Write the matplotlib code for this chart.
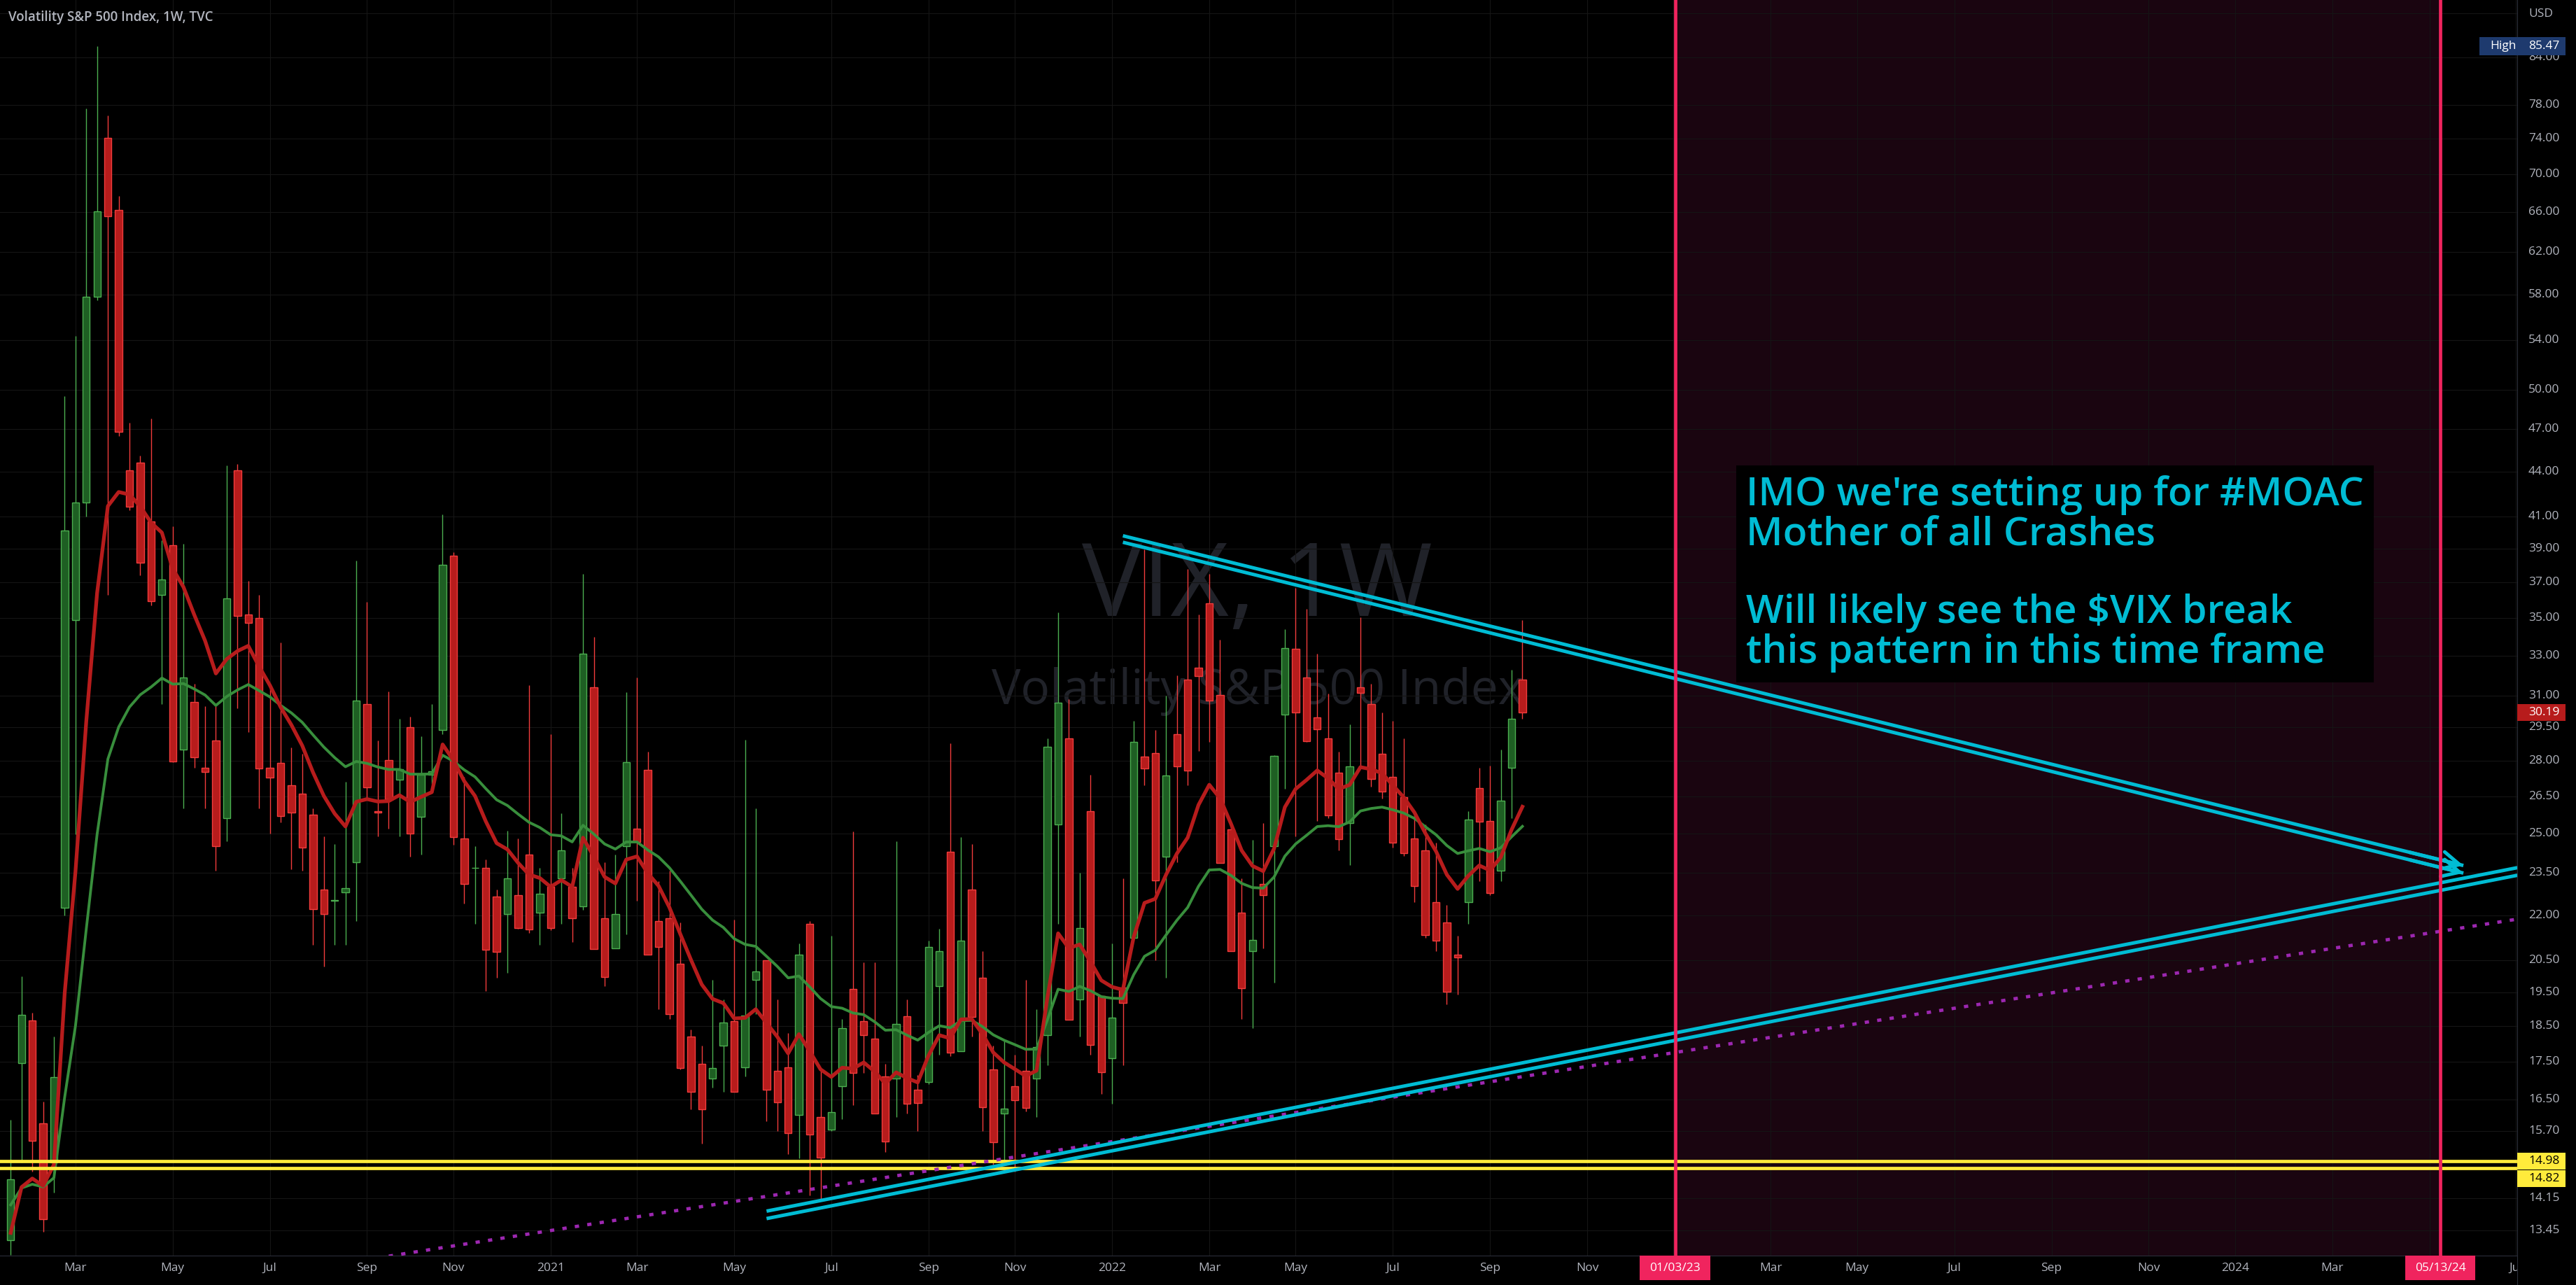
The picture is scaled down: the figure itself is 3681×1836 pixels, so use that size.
import numpy as np
import pandas as pd
import matplotlib
matplotlib.use("Agg")
import matplotlib.pyplot as plt
import matplotlib.dates as mdates
import matplotlib.transforms as mtransforms
from matplotlib.patches import Rectangle

plt.rcParams['font.family'] = ['Open Sans', 'DejaVu Sans']

# ---- VIX weekly candles (TVC), first bar = week of 2020-01-20 ----------
first_week = "2020-01-20"
opens = [13.24, 17.46, 18.66, 15.9, 14.96, 22.26, 34.9, 41.9, 57.8, 74.1,
         66.2, 44.1, 44.6, 40.7, 36.3, 39.2, 28.5, 30.7, 27.7, 28.9,
         25.6, 44.1, 35.2, 35.0, 27.7, 27.9, 26.95, 26.6, 25.75, 22.9,
         22.5, 22.8, 23.9, 30.6, 25.9, 28.05, 27.2, 29.5, 25.67, 27.4,
         29.4, 38.6, 24.8, 23.68, 23.7, 22.65, 22.05, 22.7, 24.2, 22.1,
         23.0, 23.3, 23.0, 22.3, 31.4, 21.9, 20.9, 24.5, 25.2, 27.6,
         21.8, 21.9, 20.4, 18.2, 17.45, 17.05, 17.95, 18.65, 17.35, 19.9,
         20.5, 17.25, 17.35, 16.1, 21.7, 16.05, 15.75, 16.85, 19.6, 18.65,
         18.15, 17.1, 17.05, 18.8, 16.75, 16.95, 19.7, 24.3, 17.8, 22.9,
         19.95, 17.3, 16.15, 16.85, 17.25, 17.05, 18.25, 25.35, 29.0, 19.3,
         25.9, 19.4, 17.6, 19.65, 21.25, 28.2, 28.35, 24.1, 29.2, 31.8,
         32.4, 35.8, 31.05, 25.15, 22.1, 20.8, 23.1, 24.5, 30.1, 33.35,
         31.9, 29.98, 29.0, 27.5, 25.4, 31.4, 30.6, 28.3, 27.3, 26.45,
         24.8, 24.35, 22.45, 21.75, 20.7, 22.45, 26.85, 25.5, 23.6, 27.7,
         31.8]
highs = [15.98, 20.0, 18.9, 16.45, 18.2, 49.48, 54.39, 77.6, 85.47, 76.7,
         67.7, 47.5, 45.1, 47.8, 39.5, 40.4, 39.3, 31.6, 30.5, 30.5,
         44.44, 44.5, 37.1, 36.3, 31.4, 33.7, 28.6, 28.3, 26.0, 24.9,
         24.6, 27.1, 38.3, 35.9, 28.9, 31.2, 29.9, 30.0, 29.1, 30.6,
         41.16, 38.8, 27.3, 24.5, 24.0, 22.9, 25.1, 24.8, 31.5, 23.7,
         29.2, 25.8, 23.7, 37.51, 34.0, 23.9, 24.2, 31.16, 31.9, 28.4,
         23.2, 23.6, 21.75, 18.4, 17.95, 19.9, 19.3, 21.85, 28.93, 26.0,
         20.5, 19.3, 18.3, 21.05, 21.8, 17.3, 21.3, 18.7, 25.09, 20.45,
         20.45, 17.45, 24.7, 19.3, 17.15, 21.15, 21.55, 28.79, 24.85, 24.6,
         20.8, 17.95, 18.1, 17.7, 19.9, 19.0, 29.0, 35.32, 30.85, 23.5,
         27.4, 19.4, 21.05, 23.3, 29.8, 38.94, 29.4, 31.0, 32.0, 37.79,
         35.2, 37.5, 33.85, 25.3, 23.3, 24.75, 25.4, 28.25, 34.4, 36.7,
         35.5, 33.1, 31.1, 28.4, 29.65, 35.05, 31.6, 30.2, 29.8, 29.0,
         25.9, 25.35, 24.65, 22.35, 21.3, 25.9, 27.7, 27.8, 28.5, 32.3,
         34.9]
lows = [12.95, 14.96, 14.74, 13.42, 14.26, 22.0, 24.97, 41.0, 57.5, 36.3,
        46.5, 41.4, 37.4, 35.7, 30.6, 27.95, 26.0, 27.7, 26.0, 23.6,
        24.7, 30.4, 29.3, 26.0, 25.0, 25.45, 23.65, 23.6, 21.0, 20.3,
        21.0, 21.0, 21.8, 26.4, 24.9, 25.2, 24.9, 24.1, 24.2, 27.0,
        29.2, 24.55, 22.4, 21.7, 19.55, 19.95, 20.1, 21.55, 21.4, 21.0,
        21.5, 21.7, 21.1, 22.2, 20.87, 19.7, 20.9, 21.35, 22.5, 20.69,
        19.0, 18.7, 17.3, 16.25, 15.4, 16.8, 16.7, 16.69, 17.1, 18.85,
        15.95, 15.7, 15.15, 15.05, 14.2, 14.1, 15.7, 16.0, 16.35, 17.2,
        16.15, 15.2, 16.05, 16.15, 15.7, 16.9, 17.7, 17.65, 17.8, 18.2,
        15.7, 14.9, 14.95, 14.75, 16.2, 16.05, 17.4, 21.7, 18.69, 18.2,
        17.7, 16.65, 16.4, 17.4, 21.25, 26.95, 20.5, 19.95, 23.9, 26.95,
        28.45, 28.85, 23.87, 20.81, 18.7, 18.45, 20.9, 19.8, 26.8, 24.9,
        28.85, 25.5, 25.6, 24.35, 23.8, 27.8, 26.9, 26.4, 24.45, 24.15,
        22.45, 21.25, 20.8, 19.15, 19.45, 21.7, 23.2, 22.7, 23.2, 25.6,
        29.9]
closes = [14.56, 18.84, 15.47, 13.68, 17.08, 40.11, 41.94, 57.83, 66.04, 65.54,
          46.8, 41.67, 38.15, 35.93, 37.19, 27.98, 31.89, 28.16, 27.51, 24.52,
          36.09, 35.12, 34.73, 27.68, 27.29, 25.68, 25.84, 24.46, 22.21, 22.05,
          22.54, 22.96, 30.75, 26.87, 25.83, 26.38, 27.63, 25.0, 27.41, 27.55,
          38.02, 24.86, 23.1, 23.7, 20.84, 20.79, 23.31, 21.57, 21.53, 22.75,
          21.56, 24.34, 21.91, 33.09, 20.87, 19.97, 22.05, 27.95, 24.66, 20.69,
          20.95, 18.86, 17.33, 16.69, 16.25, 17.33, 18.61, 16.69, 18.81, 20.15,
          16.76, 16.42, 15.65, 20.70, 15.62, 15.07, 16.18, 18.45, 17.20, 18.24,
          16.15, 15.45, 18.56, 16.39, 16.41, 20.95, 20.81, 17.75, 21.15, 18.77,
          16.30, 15.43, 16.26, 16.48, 16.29, 17.91, 28.62, 30.67, 18.69, 21.57,
          17.96, 17.22, 18.76, 19.19, 28.85, 27.66, 23.22, 27.36, 27.75, 27.59,
          31.98, 30.75, 23.87, 20.81, 19.63, 21.16, 22.70, 28.21, 33.40, 30.19,
          28.87, 29.43, 25.72, 24.79, 27.75, 31.13, 27.23, 26.70, 24.64, 24.23,
          23.03, 21.33, 21.15, 19.53, 20.60, 25.56, 25.47, 22.79, 26.30, 29.92,
          30.19]

# moving averages on close (values just before the first bar)
fast_span, fast_seed = 10, 13.14    # red
slow_span, slow_seed = 25, 13.95    # green

# right price scale
price_ticks = [84, 78, 74, 70, 66, 62, 58, 54, 50, 47, 44, 41, 39, 37, 35, 33,
               31, 29.5, 28, 26.5, 25, 23.5, 22, 20.5, 19.5, 18.5, 17.5, 16.5,
               15.7, 14.15, 13.45]
extra_grid = [90]
high_price = 85.47
last_price = 30.19
support_levels = [14.98, 14.82]

# drawings: (dates, prices)
falling_top = (["2022-01-10", "2024-05-28"], [39.8, 23.78])
falling_bot = (["2022-01-10", "2024-05-28"], [39.4, 23.50])
rising_top = (["2021-05-24", "2024-07-02"], [13.86, 23.70])
rising_bot = (["2021-05-24", "2024-07-02"], [13.70, 23.42])
dotted_trend = (["2020-09-05", "2024-07-02"], [12.84, 21.87])
window_dates = ["2023-01-03", "2024-05-13"]
window_labels = ["01/03/23", "05/13/24"]

note = ("IMO we're setting up for #MOAC\nMother of all Crashes\n\n"
        "Will likely see the $VIX break\nthis pattern in this time frame")

# ---- colours ----------------------------------------------------------
BG = "#000000"
GRID = "#151515"
AXTXT = "#b2b5be"
UP_BODY, UP_LINE = "#1e5f23", "#4caf50"
DN_BODY, DN_LINE = "#b71c1c", "#f23c3c"
CYAN = "#00bcd4"
PINK = "#f0245e"
YELLOW = "#ffeb3b"
PURPLE = "#9c27b0"

W, H, DPI = 3681, 1836, 100
AX_R, AX_B = 3597, 42            # price scale starts at x=3597, time scale 42px tall
fig = plt.figure(figsize=(W / DPI, H / DPI), dpi=DPI, facecolor=BG)
ax = fig.add_axes([0, AX_B / H, AX_R / W, 1 - AX_B / H], facecolor=BG)
pax = fig.add_axes([AX_R / W, 0, 1 - AX_R / W, 1], facecolor=BG, zorder=5)
pax.set_xticks([]); pax.set_yticks([])
for s in pax.spines.values():
    s.set_visible(False)
pax.spines['left'].set_visible(True)
pax.spines['left'].set_color("#2a2e39")

t0 = mdates.date2num(pd.Timestamp(first_week))
weeks = pd.date_range(first_week, periods=len(closes), freq="7D")
x = mdates.date2num(weeks)
o, h, l, c = (np.array(v, dtype=float) for v in (opens, highs, lows, closes))
up = c >= o

ymin, ymax = 12.93, 91.9
ax.set_yscale('log')
ax.set_ylim(ymin, ymax)
ax.set_xlim(t0 - 6.94, t0 + 1624.9)

def px_factor(px):
    # multiplicative step on the log price scale for a pixel distance
    return np.exp(px * np.log(ymax / ymin) / (H - AX_B))

# grid
ax.yaxis.set_minor_locator(matplotlib.ticker.NullLocator())
ax.set_yticks(price_ticks + extra_grid)
ax.tick_params(axis='y', left=False, right=False, labelleft=False)
tick_days = []
for d in pd.date_range("2020-03-01", "2024-07-01", freq="2MS"):
    tick_days.append(d + pd.Timedelta(days=(7 - d.weekday()) % 7))
tick_lbls = []
for d in tick_days:
    if (d.year, d.month) in [(2023, 1), (2024, 5)]:
        tick_lbls.append("")
    else:
        tick_lbls.append(str(d.year) if d.month == 1 else d.strftime("%b"))
ax.set_xticks(mdates.date2num(tick_days))
ax.set_xticklabels(tick_lbls)
ax.tick_params(axis='x', length=0, pad=7, labelsize=12.5, labelcolor=AXTXT)
ax.grid(True, color=GRID, lw=0.8, zorder=0)
ax.set_axisbelow(True)
for side in ['top', 'left', 'right']:
    ax.spines[side].set_visible(False)
ax.spines['bottom'].set_color("#2a2e39")

# highlighted time window
ax.axvspan(*mdates.date2num(pd.to_datetime(window_dates)), color="#1a0510", zorder=0.3, lw=0)

# watermark
ax.text(0.4995, 0.5095, "VIX, 1W", transform=ax.transAxes, ha='center', va='baseline',
        fontsize=104, color="#202229", zorder=0.5)
ax.text(0.4995, 0.4392, "Volatility S&P 500 Index", transform=ax.transAxes, ha='center',
        va='baseline', fontsize=50, color="#202229", zorder=0.5)

# candles
body_w = 4.7
ax.vlines(x[up], l[up], h[up], color=UP_LINE, lw=1.0, zorder=2)
ax.vlines(x[~up], l[~up], h[~up], color=DN_LINE, lw=1.0, zorder=2)
ax.bar(x[up], (c - o)[up], bottom=o[up], width=body_w, color=UP_BODY,
       edgecolor=UP_LINE, lw=1.0, zorder=3)
ax.bar(x[~up], (o - c)[~up], bottom=c[~up], width=body_w, color=DN_BODY,
       edgecolor=DN_LINE, lw=1.0, zorder=3)

# moving averages
def ema(vals, span, seed):
    s = pd.Series([seed] + list(vals))
    return s.ewm(span=span, adjust=False).mean().values[1:]

ax.plot(x, ema(c, slow_span, slow_seed), color="#388e3c", lw=2.8, zorder=4)
ax.plot(x, ema(c, fast_span, fast_seed), color="#b71c1c", lw=3.8, zorder=4)

# support lines
for v in support_levels:
    ax.axhline(v, color=YELLOW, lw=3.4, zorder=6)

# trend lines
for dates, prices in [rising_top, rising_bot, falling_top, falling_bot]:
    ax.plot(mdates.date2num(pd.to_datetime(dates)), prices, color=CYAN, lw=3.6,
            solid_capstyle='butt', zorder=7)
# arrow heads at the end of the falling channel
for dates, prices in [falling_top, falling_bot]:
    xs = mdates.date2num(pd.to_datetime(dates))
    back_x = xs[1] - 0.04 * (xs[1] - xs[0])
    back_p = prices[1] * (prices[0] / prices[1]) ** 0.04
    ax.annotate("", xy=(xs[1], prices[1]), xytext=(back_x, back_p),
                arrowprops=dict(arrowstyle="->,head_length=1.8,head_width=0.9",
                                color=CYAN, lw=3.6, shrinkA=0, shrinkB=0), zorder=7)
ax.plot(mdates.date2num(pd.to_datetime(dotted_trend[0])), dotted_trend[1],
        color=PURPLE, lw=3.4, linestyle=(0, (1.3, 2.5)), zorder=6)

# window edges + date labels on the time scale
xb = mtransforms.blended_transform_factory(ax.transData, ax.transAxes)
for d, lbl in zip(pd.to_datetime(window_dates), window_labels):
    xd = mdates.date2num(d)
    ax.axvline(xd, color=PINK, lw=3.4, zorder=8)
    ax.add_patch(Rectangle((xd - 22.9, -35 / 1794), 45.8, 35 / 1794, transform=xb,
                           facecolor=PINK, edgecolor='none', clip_on=False, zorder=10))
    ax.text(xd, -17.5 / 1794, lbl, transform=xb, ha='center', va='center',
            fontsize=12.5, color='white', zorder=11, clip_on=False)

# annotation
ax.text(0.6936, 0.6215, note, transform=ax.transAxes, ha='left', va='top',
        fontsize=41, color=CYAN, linespacing=1.0, zorder=9, fontweight='semibold',
        bbox=dict(boxstyle='square,pad=0.25', facecolor='black', edgecolor='none'))

# title
ax.text(0.0033, 0.986, "Volatility S&P 500 Index, 1W, TVC", transform=ax.transAxes,
        ha='left', va='center', fontsize=13.5, color=AXTXT, zorder=9, fontweight='semibold')

# price scale
pt = mtransforms.blended_transform_factory(pax.transAxes, ax.transData)
for v in price_ticks:
    pax.text(0.19, v, f"{v:.2f}", transform=pt, ha='left', va='center',
             fontsize=12.5, color=AXTXT, clip_on=False)
pax.text(0.19, 0.989, "USD", transform=pax.transAxes, ha='left', va='center',
         fontsize=12.5, color=AXTXT)

def price_box(v, text, face, fg, shift_px=0, half_px=13):
    vc = v / px_factor(shift_px)
    pax.add_patch(Rectangle((0, vc / px_factor(half_px)), 0.82,
                            vc * px_factor(half_px) - vc / px_factor(half_px),
                            transform=pt, facecolor=face, edgecolor='none',
                            clip_on=False, zorder=5))
    pax.text(0.19, vc, text, transform=pt, ha='left', va='center', fontsize=12.5,
             color=fg, zorder=6, clip_on=False)

price_box(high_price, f"{high_price:.2f}", "#1e3a6e", "white")
price_box(last_price, f"{last_price:.2f}", "#b71c1c", "white", half_px=12)
price_box(support_levels[0], f"{support_levels[0]:.2f}", YELLOW, "black", half_px=12)
price_box(support_levels[1], f"{support_levels[1]:.2f}", YELLOW, "black", shift_px=15, half_px=12)
hb = mtransforms.blended_transform_factory(ax.transAxes, ax.transData)
ax.add_patch(Rectangle((3543 / AX_R, high_price / px_factor(13)), 1 - 3543 / AX_R,
                       high_price * px_factor(13) - high_price / px_factor(13),
                       transform=hb, facecolor="#1e3a6e", edgecolor='none', zorder=9))
ax.text(0.9995, high_price, "High", transform=hb, ha='right', va='center',
        fontsize=12.5, color='white', zorder=10)

fig.savefig("out.png", dpi=DPI, facecolor=BG)
